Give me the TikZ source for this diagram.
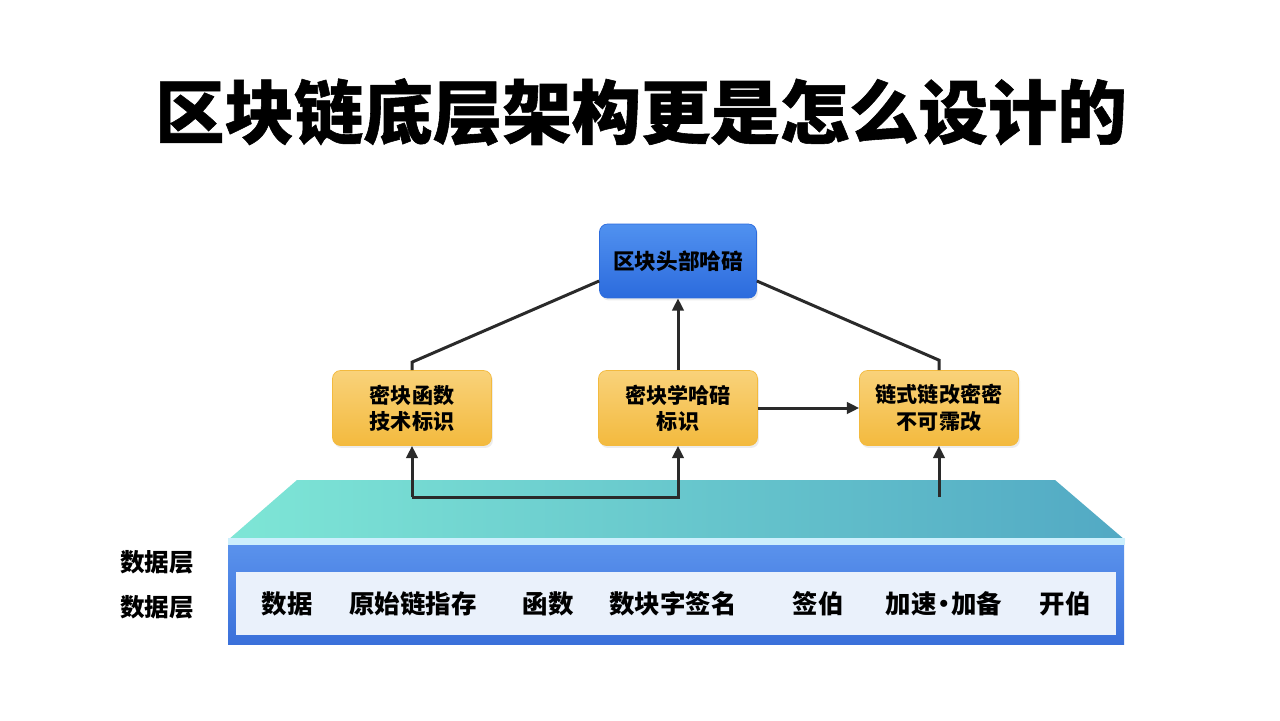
\documentclass[tikz,border=0pt]{standalone}
\usepackage{fontspec}
\setmainfont{Noto Sans CJK SC}
\newfontfamily\heavyfont{Noto Sans CJK SC}[BoldFeatures={FakeBold=0.8}]
\usepackage{tikz}
\usetikzlibrary{arrows.meta, positioning, shadows}

\definecolor{hashblue}{HTML}{3D85EE}
\definecolor{hashblueD}{HTML}{2C6BDD}
\definecolor{keyyel}{HTML}{F9D27A}
\definecolor{keyyelD}{HTML}{F3BA3E}
\definecolor{topL}{HTML}{7EE6D6}
\definecolor{topR}{HTML}{52A9C4}
\definecolor{frontT}{HTML}{5A92EC}
\definecolor{frontB}{HTML}{3A70DA}
\definecolor{panel}{HTML}{EAF1FB}
\definecolor{wire}{HTML}{2A2A2A}

\begin{document}
\begin{tikzpicture}[x=0.02cm, y=-0.02cm,
    hashbox/.style={rectangle, rounded corners=0.16cm, minimum width=3.14cm, minimum height=1.48cm,
        top color=hashblue!90!white, bottom color=hashblueD, draw=hashblueD, line width=0.4pt,
        drop shadow={opacity=0.15, shadow xshift=0.03cm, shadow yshift=-0.05cm},
        font=\bfseries\fontsize{12.3}{14}\selectfont, align=center},
    keybox/.style={rectangle, rounded corners=0.16cm, minimum width=3.18cm, minimum height=1.5cm,
        top color=keyyel, bottom color=keyyelD, draw=keyyelD, line width=0.4pt,
        drop shadow={opacity=0.15, shadow xshift=0.03cm, shadow yshift=-0.05cm},
        font=\bfseries\fontsize{12}{15}\selectfont, align=center},
    wireline/.style={draw=wire, line width=1.7pt},
    arr/.style={wireline, -{Triangle[length=7pt, width=6.5pt]}},
    celltext/.style={font=\bfseries\fontsize{14.5}{16}\selectfont},
    sidetext/.style={font=\bfseries\fontsize{14}{16}\selectfont}]
    \useasboundingbox[fill=white] (0,0) rectangle (1280,720);

    % Title
    \node[font=\heavyfont\bfseries\fontsize{39.5}{44}\selectfont] (title) at (641,112) {区块链底层架构更是怎么设计的};

    % Data layer platform
    \shade[left color=topL, right color=topR] (297,480) -- (1055,480) -- (1125,540) -- (228,540) -- cycle;
    \fill[cyan!20!white] (228,538) rectangle (1125,545);
    \shade[top color=frontT, bottom color=frontB] (228,545) rectangle (1124,644);
    \fill[panel] (236,572) rectangle (1116,635);

    % Side labels
    \node[sidetext] (lay1) at (157,562) {数据层};
    \node[sidetext] (lay2) at (157,607) {数据层};

    % Panel entries
    \node[celltext] (c1) at (287,604) {数据};
    \node[celltext] (c2) at (413,604) {原始链指存};
    \node[celltext] (c3) at (548,604) {函数};
    \node[celltext] (c4) at (673,604) {数块字签名};
    \node[celltext] (c5) at (818,604) {签伯};
    \node[celltext] (c6) at (944,604) {加速\hspace{-0.22em}·\hspace{-0.22em}加备};
    \node[celltext] (c7) at (1065,604) {开伯};

    % Hash hierarchy
    \node[hashbox] (head) at (678,261) {区块头部哈碚};
    \node[keybox] (fnkey) at (412,408) {密块函数\\技术标识};
    \node[keybox] (hashkey) at (678,408) {密块学哈碚\\标识};
    \node[keybox] (chain) at (939,408) {链式链改密密\\不可霈改};

    % Joints on the platform
    \coordinate (jl) at (412,497);
    \coordinate (jr) at (939,497);

    % Arrows
    \draw[wireline] (fnkey.north) -- ++(0,-8) -- ([yshift=-0.4cm]head.west);
    \draw[wireline] ([yshift=-0.4cm]head.east) -- ([yshift=0.2cm]chain.north) -- (chain.north);
    \draw[arr] (hashkey.north) -- (head.south);
    \draw[arr] (hashkey.east) -- (chain.west);
    \draw[arr] (jl) -- (fnkey.south);
    \draw[arr] (jl) -| (hashkey.south);
    \draw[arr] (jr) -- (chain.south);
\end{tikzpicture}
\end{document}
